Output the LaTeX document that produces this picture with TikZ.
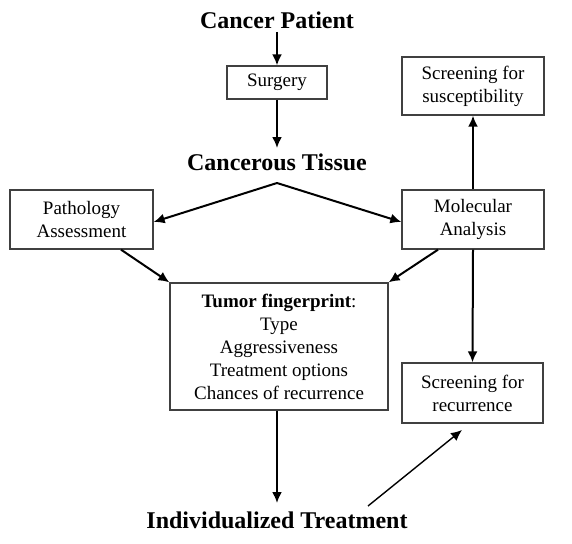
\documentclass[tikz,border=0pt]{standalone}
\usepackage{fontspec}
\setmainfont{Liberation Serif}
\usetikzlibrary{arrows.meta}
\begin{document}
\begin{tikzpicture}[x=1pt,y=-1pt,
  box/.style={draw=black!75, line width=1.3pt, align=center, inner sep=0pt,
    font=\fontsize{19}{23}\selectfont},
  title/.style={font=\fontsize{24}{28}\selectfont\bfseries, inner sep=0pt},
  conn/.style={line width=2pt, -{Latex[length=11pt,width=10pt]}},
  thinconn/.style={line width=1.4pt, -{Latex[length=11pt,width=10pt]}}]
\useasboundingbox (0,0) rectangle (572,543);
\node[title] (cp) at (277,20) {Cancer Patient};
\node[box, minimum width=100pt, minimum height=33pt] (surg) at (277,82.5) {Surgery};
\node[title] (ct) at (277,162) {Cancerous Tissue};
\coordinate (apex) at (277,183);
\node[box, minimum width=143pt, minimum height=59pt] (path) at (81.5,219.5) {Pathology\\Assessment};
\node[box, minimum width=142pt, minimum height=59pt] (mol) at (473,219.5) {Molecular\\Analysis};
\node[box, minimum width=142pt, minimum height=58pt] (scs) at (473,86) {Screening for\\susceptibility};
\node[box, minimum width=218pt, minimum height=127pt] (tum) at (279,346.5)
  {\textbf{Tumor fingerprint}:\\Type\\Aggressiveness\\Treatment options\\Chances of recurrence};
\node[box, minimum width=141pt, minimum height=60pt] (scr) at (472.5,393) {Screening for\\recurrence};
\node[title] (ind) at (277,520) {Individualized Treatment};
\coordinate (indstart) at (368,506);
\coordinate (scrend) at (462,430);
\coordinate (indtop) at (277,503);
\coordinate (cttop) at (277,148);
\coordinate (cpbot) at (277,32);

\draw[conn] (cpbot) -- (surg.north);
\draw[conn] (surg.south) -- (cttop);
\draw[conn] (apex) -- ([yshift=-2.5pt]path.east);
\draw[conn] (apex) -- ([yshift=-2.5pt]mol.west);
\draw[conn] ([xshift=39.5pt]path.south) -- (tum.north west);
\draw[conn] ([xshift=-35pt]mol.south) -- (tum.north east);
\draw[conn] (mol.north) -- (scs.south);
\draw[conn] (mol.south) -- (scr.north);
\draw[conn] ([xshift=-2pt]tum.south) -- (indtop);
\draw[thinconn] (indstart) -- (scrend);
\end{tikzpicture}
\end{document}
